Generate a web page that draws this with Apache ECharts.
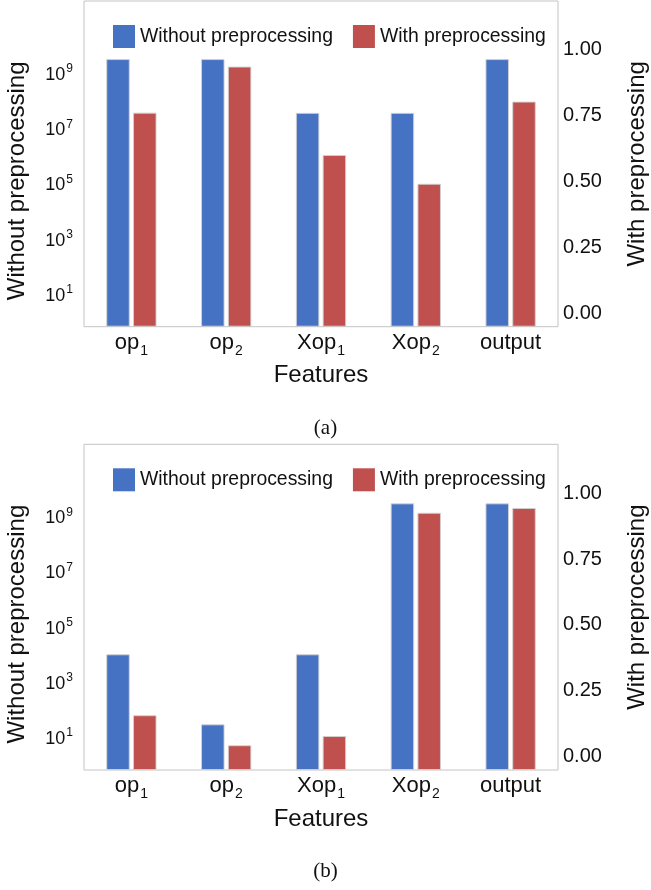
<!DOCTYPE html>
<html>
<head>
<meta charset="utf-8">
<script src="https://cdn.jsdelivr.net/npm/echarts@6/dist/echarts.min.js"></script>
<style>
  html, body { margin: 0; padding: 0; background: #fff; }
  #chart { width: 651px; height: 890px; }
</style>
</head>
<body>
<div id="chart"></div>
<script>
// categories, "_" marks the subscript
var categories = ['op_1', 'op_2', 'Xop_1', 'Xop_2', 'output'];
// panel (a)
var withoutA = [3.2e9, 3.2e9, 3.6e7, 3.6e7, 3.2e9];
var withA = [0.762, 0.937, 0.601, 0.492, 0.804];
// panel (b)
var withoutB = [1.0e4, 29, 1.0e4, 2.95e9, 2.95e9];
var withB = [0.157, 0.043, 0.078, 0.926, 0.944];
// tick labels
var logTicks = [10, 1e3, 1e5, 1e7, 1e9];
var linTicks = [0, 0.25, 0.5, 0.75, 1];
var captions = ['(a)', '(b)'];

var FONT = 'Liberation Sans';
var BLUE = '#4672c4';
var RED = '#c0504d';
var PANEL_SHIFT = 443.3;

var myChart = echarts.init(document.getElementById('chart'));

var grids = [], xAxes = [], yAxes = [], series = [], legends = [], titles = [];

function catLabel(v) {
    var parts = v.split('_');
    if (parts.length < 2) return '{b|' + v + '}';
    return '{b|' + parts[0] + '}{s|' + parts[1] + '}';
}

function logLabel(v) {
    var e = Math.round(Math.log10(v));
    return '{b|10}{s|' + e + '}';
}

[[withoutA, withA], [withoutB, withB]].forEach(function (pair, i) {
    var top = 1 + i * PANEL_SHIFT;
    grids.push({
        left: 84, top: top, width: 474, height: 325.7,
        outerBoundsMode: 'none', containLabel: false,
        show: true, borderColor: '#c4c4c4', borderWidth: 1
    });
    xAxes.push({
        type: 'category', gridIndex: i, data: categories,
        axisLine: { show: false }, axisTick: { show: false },
        axisLabel: {
            margin: 1, formatter: catLabel,
            rich: {
                b: { fontFamily: FONT, fontSize: 22, color: '#111', lineHeight: 26, verticalAlign: 'bottom' },
                s: { fontFamily: FONT, fontSize: 14, color: '#111', lineHeight: 26, verticalAlign: 'bottom', padding: [0, 0, -4, 1] }
            }
        },
        name: 'Features', nameLocation: 'middle', nameGap: 37,
        nameTextStyle: { fontFamily: FONT, fontSize: 24, color: '#111' }
    });
    yAxes.push({
        type: 'log', gridIndex: i, position: 'left',
        min: 0.643, max: 4.07e11, startValue: 0.643,
        axisLine: { show: false }, axisTick: { show: false }, splitLine: { show: false },
        axisLabel: {
            margin: 11, customValues: logTicks, formatter: logLabel,
            rich: {
                b: { fontFamily: FONT, fontSize: 18, color: '#111', lineHeight: 22, verticalAlign: 'bottom' },
                s: { fontFamily: FONT, fontSize: 12, color: '#111', lineHeight: 22, verticalAlign: 'top', padding: [1, 0, 0, 1] }
            }
        },
        name: 'Without preprocessing', nameLocation: 'middle', nameGap: 55,
        nameTextStyle: { fontFamily: FONT, fontSize: 24, color: '#111', padding: [0, 34, 0, 0] }
    });
    yAxes.push({
        type: 'value', gridIndex: i, position: 'right',
        min: -0.051, max: 1.186, startValue: -0.051,
        axisLine: { show: false }, axisTick: { show: false }, splitLine: { show: false },
        axisLabel: {
            margin: 5, customValues: linTicks,
            fontFamily: FONT, fontSize: 20, color: '#111',
            formatter: function (v) { return v.toFixed(2); }
        },
        name: 'With preprocessing', nameLocation: 'middle', nameGap: 67,
        nameTextStyle: { fontFamily: FONT, fontSize: 24, color: '#111' }
    });
    series.push({
        name: 'Without preprocessing', type: 'bar',
        xAxisIndex: i, yAxisIndex: i * 2,
        data: pair[0], barWidth: 23.5, barGap: '14%',
        itemStyle: { color: BLUE, borderColor: 'rgba(210,210,210,0.9)', borderWidth: 1 }
    });
    series.push({
        name: 'With preprocessing', type: 'bar',
        xAxisIndex: i, yAxisIndex: i * 2 + 1,
        data: pair[1], barWidth: 23.5, barGap: '14%',
        itemStyle: { color: RED, borderColor: 'rgba(210,210,210,0.9)', borderWidth: 1 }
    });
    legends.push({
        left: 108, top: 20 + i * PANEL_SHIFT,
        itemWidth: 22, itemHeight: 23, itemGap: 20,
        icon: 'rect',
        data: ['Without preprocessing', 'With preprocessing'],
        itemStyle: { borderWidth: 0 },
        textStyle: { fontFamily: FONT, fontSize: 19.4, color: '#111' }
    });
    titles.push({
        text: captions[i], left: 'center', top: 418 + i * PANEL_SHIFT, padding: 0,
        textStyle: { fontFamily: 'Liberation Serif', fontSize: 21, fontWeight: 'normal', color: '#111' }
    });
});

myChart.setOption({
    animation: false,
    title: titles,
    legend: legends,
    grid: grids,
    xAxis: xAxes,
    yAxis: yAxes,
    series: series
});
</script>
</body>
</html>
